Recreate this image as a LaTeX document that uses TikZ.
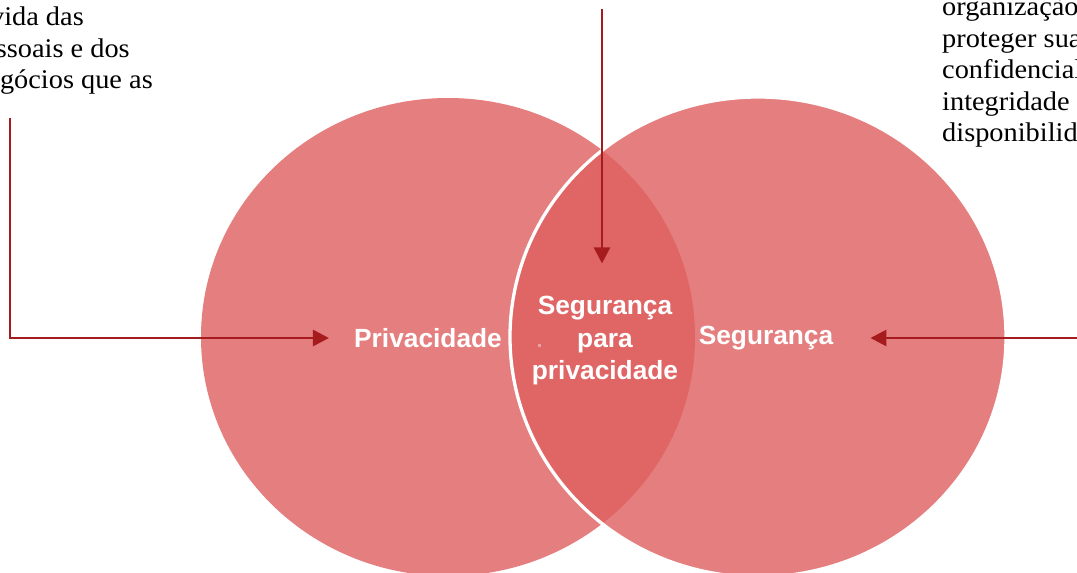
\documentclass[tikz,border=0pt]{standalone}
\usepackage{fontspec}
\setmainfont{Liberation Serif}
\newfontfamily\lsans{Liberation Sans}
\newfontfamily\lserif[FakeStretch=1.05]{Liberation Serif}
\usetikzlibrary{arrows.meta}
\definecolor{circ}{RGB}{229,126,126}
\definecolor{lens}{RGB}{224,102,102}
\definecolor{arr}{RGB}{166,27,30}
\definecolor{dotc}{RGB}{236,160,160}
\begin{document}
\begin{tikzpicture}[x=1pt,y=-1pt,
  lbl/.style={text=white,font=\lsans\bfseries\fontsize{26.3}{32.5}\selectfont,align=center,inner sep=0pt},
  side/.style={font=\lserif\fontsize{27}{31.5}\selectfont,text=black,inner sep=0pt},
  conn/.style={draw=arr,line width=2.8pt,-{Triangle[length=16pt,width=16pt]}}]
\useasboundingbox (0,0) rectangle (1077,573);
\clip (0,0) rectangle (1077,573);
\fill[circ] (448,337) ellipse [x radius=247, y radius=239];
\fill[circ] (758,337) ellipse [x radius=248, y radius=240];
\begin{scope}
  \clip (448,337) ellipse [x radius=247, y radius=239];
  \fill[lens] (758,337) ellipse [x radius=248, y radius=240];
\end{scope}
\draw[white, line width=3.3pt] (758,337) ellipse [x radius=248, y radius=240];
\fill[dotc] (537.5,343.5) rectangle (540.5,346.5);
\node[lbl] (priv) at (428,338) {Privacidade};
\node[lbl] (seg) at (766,338) {Segurança};
\node[lbl] (spp) at (605,341) {Segurança\\para\\privacidade};
\node[side, anchor=base east] (l1) at (84,25) {vida das};
\node[side, anchor=base east] (l2) at (130,57) {ssoais e dos};
\node[side, anchor=base east] (l3) at (153,88) {gócios que as};
\node[side, anchor=base west] (r1) at (942,15) {organização};
\node[side, anchor=base west] (r2) at (942,47) {proteger sua};
\node[side, anchor=base west] (r3) at (942,78) {confidencial};
\node[side, anchor=base west] (r4) at (942,110) {integridade};
\node[side, anchor=base west] (r5) at (942,141) {disponibilida};
\coordinate (ls) at (10,118);
\coordinate (ts) at (602,9);
\coordinate (rs) at (1080,338);
\draw[conn, shorten >=25pt] (ls) |- (priv.west);
\draw[conn, shorten >=33pt] (ts) -- (ts |- spp.north);
\draw[conn, shorten >=37pt] (rs) -- (seg.east);
\end{tikzpicture}
\end{document}
